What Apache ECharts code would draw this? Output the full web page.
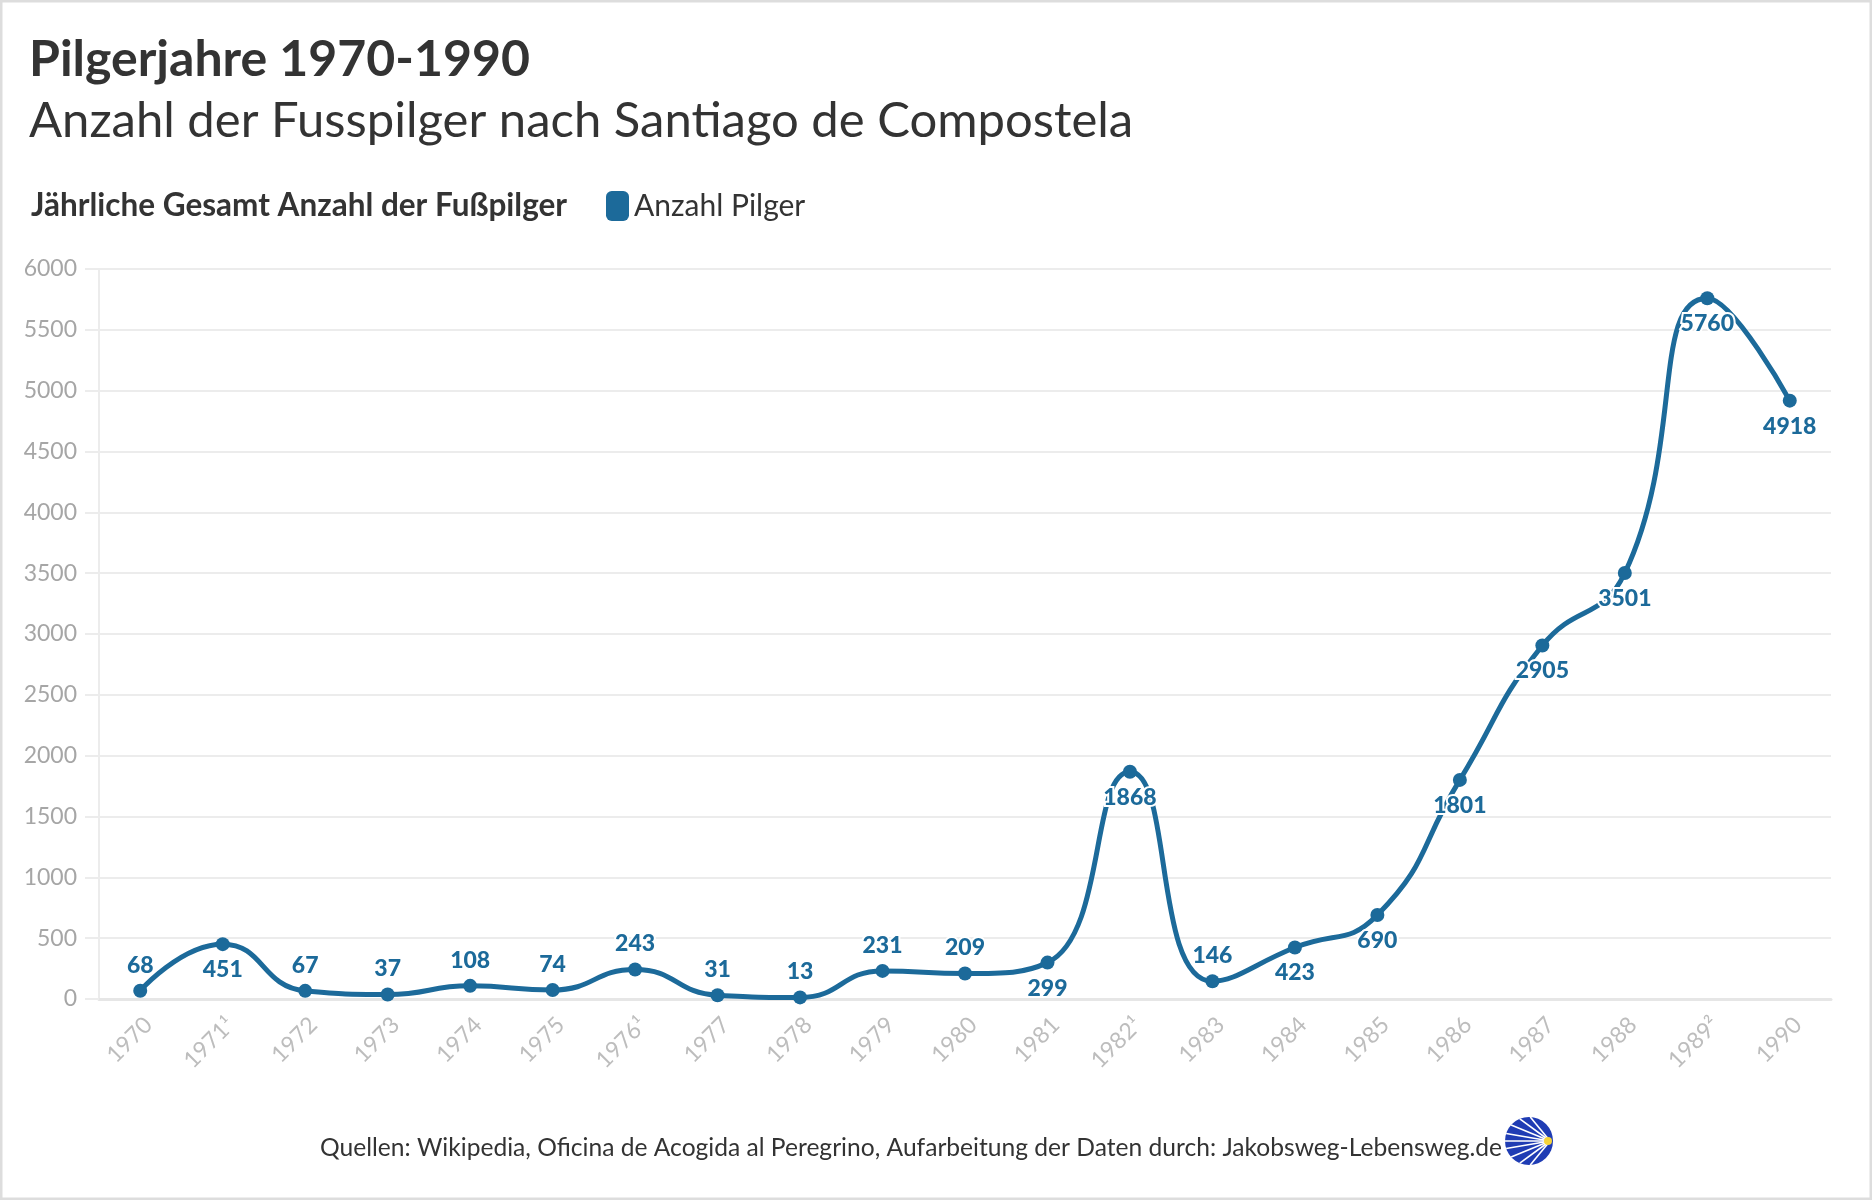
<!DOCTYPE html>
<html>
<head>
<meta charset="utf-8">
<script src="https://cdn.jsdelivr.net/npm/echarts@6/dist/echarts.min.js"></script>
<style>
html,body{margin:0;padding:0;background:#fff;}
#chart{width:1872px;height:1200px;}
</style>
</head>
<body>
<div id="chart"></div>
<script>
// ---- data ----
const years = ['1970','1971¹','1972','1973','1974','1975','1976¹','1977','1978','1979','1980','1981','1982¹','1983','1984','1985','1986','1987','1988','1989²','1990'];
const pilgrims = [68,451,67,37,108,74,243,31,13,231,209,299,1868,146,423,690,1801,2905,3501,5760,4918];
const yTicks = [0,500,1000,1500,2000,2500,3000,3500,4000,4500,5000,5500,6000];
const seriesName = 'Anzahl Pilger';

// label placement (style only)
const labelsBelow = ['1971¹','1981','1982¹','1984','1985','1986','1987','1988','1989²','1990'];

const BLUE = '#1c6a9a';
const FONT = 'Lato, "Noto Sans", sans-serif';

const chart = echarts.init(document.getElementById('chart'), null, {renderer:'canvas'});

const seriesData = pilgrims.map((v, i) => ({
  value: v,
  label: { position: labelsBelow.indexOf(years[i]) >= 0 ? 'bottom' : 'top' }
}));

// logo rays
const cx = 1529, cy = 1141, r = 24;
const fx = cx + r - 3, fy = cy;
const rays = [];
[-62,-45,-28,-12,0,12,28,45,62].forEach(a => {
  const ex = cx + r * Math.cos((180 + a*1.5) * Math.PI/180);
  const ey = cy + r * Math.sin((180 + a*1.5) * Math.PI/180);
  rays.push({type:'line', shape:{x1:fx, y1:fy, x2:ex, y2:ey}, style:{stroke:'#ffffff', lineWidth:1.6}});
});

chart.setOption({
  backgroundColor: '#ffffff',
  animation: false,
  title: [
    { text: 'Pilgerjahre 1970-1990', left: 24, top: 30,
      textStyle: { fontFamily: FONT, fontSize: 50, fontWeight: 'bold', color: '#333333' } },
    { text: 'Anzahl der Fusspilger nach Santiago de Compostela', left: 24, top: 92,
      textStyle: { fontFamily: FONT, fontSize: 49, fontWeight: 'normal', color: '#333333' } },
    { text: 'Jährliche Gesamt Anzahl der Fußpilger', left: 26, top: 185,
      textStyle: { fontFamily: FONT, fontSize: 31.5, fontWeight: 'bold', color: '#333333' } },
    { text: 'Quellen: Wikipedia, Oficina de Acogida al Peregrino, Aufarbeitung der Daten durch: Jakobsweg-Lebensweg.de',
      left: 315, top: 1131,
      textStyle: { fontFamily: FONT, fontSize: 24.6, fontWeight: 'normal', color: '#333333' } }
  ],
  legend: {
    left: 601, top: 186,
    icon: 'roundRect',
    itemWidth: 23, itemHeight: 30,
    itemGap: 10,
    textStyle: { fontFamily: FONT, fontSize: 30, color: '#333333' },
    data: [seriesName]
  },
  grid: { left: 99, right: 41, top: 269, bottom: 201, containLabel: false },
  xAxis: {
    type: 'category',
    data: years,
    boundaryGap: true,
    axisLine: { lineStyle: { color: '#e6e6e6', width: 3 } },
    axisTick: { alignWithLabel: true, length: 16, lineStyle: { color: '#e6e6e6', width: 2 } },
    axisLabel: { interval: 0, rotate: 45, margin: 14, verticalAlign: 'top',
      color: '#bdbdbd', fontFamily: FONT, fontSize: 23 },
    splitLine: { show: false }
  },
  yAxis: {
    type: 'value',
    min: 0, max: 6000, interval: 500,
    axisLine: { show: true, lineStyle: { color: '#ececec', width: 2 } },
    axisTick: { show: true, length: 14, lineStyle: { color: '#ececec', width: 2 } },
    axisLabel: { margin: 22, color: '#a6a6a6', fontFamily: FONT, fontSize: 23,
      formatter: v => yTicks.indexOf(v) >= 0 ? String(v) : '' },
    splitLine: { lineStyle: { color: '#ececec', width: 2 } }
  },
  series: [{
    name: seriesName,
    type: 'line',
    smooth: 0.5,
    data: seriesData,
    color: BLUE,
    symbol: 'circle',
    symbolSize: 14,
    lineStyle: { color: BLUE, width: 5 },
    itemStyle: { color: BLUE },
    label: {
      show: true, distance: 7,
      color: BLUE, fontFamily: FONT, fontWeight: 900, fontSize: 23,
      textBorderColor: '#ffffff', textBorderWidth: 4
    }
  }],
  graphic: [
    { type: 'rect', shape: { x: 1, y: 1, width: 1870, height: 1198 },
      style: { fill: 'none', stroke: '#dddddd', lineWidth: 3 }, z: 100 },
    { type: 'group', children: [
      { type: 'circle', shape: { cx: cx, cy: cy, r: r }, style: { fill: '#1f3cb4' } },
      ...rays,
      { type: 'circle', shape: { cx: fx - 2, cy: fy, r: 4 }, style: { fill: '#f5d33a' } }
    ]}
  ]
});
</script>
</body>
</html>
